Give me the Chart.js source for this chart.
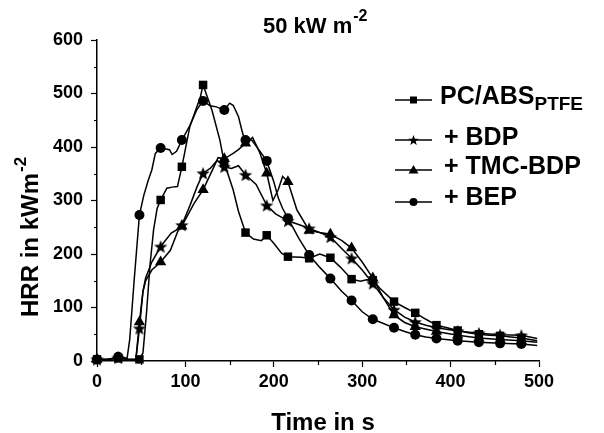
<!DOCTYPE html>
<html>
<head>
<meta charset="utf-8">
<script src="https://cdn.jsdelivr.net/npm/chart.js@4.4.1/dist/chart.umd.min.js"></script>
<style>
  html, body { margin: 0; padding: 0; background: #fff; }
  canvas { display: block; }
</style>
</head>
<body>
<canvas id="chart" width="604" height="433"></canvas>
<script>
// Values: time in s, HRR in kW m-2
const pcTime = [0, 12, 24, 36, 48, 52, 56, 60, 64, 68, 72, 79, 85, 91, 96, 105, 113, 117, 120, 130, 139, 144, 154, 160, 168, 177, 186, 192, 199, 209, 216, 231, 240, 252, 264, 275, 288, 298, 305, 312, 320, 336, 348, 360, 372, 384, 396, 408, 420, 432, 444, 456, 468, 480, 498];
const pcHrr  = [3, 3, 5, 3, 3, 15, 90, 180, 245, 285, 301, 323, 325, 326, 363, 438, 475, 494, 516, 469, 413, 370, 320, 280, 240, 228, 225, 235, 222, 201, 195, 194, 192, 200, 193, 176, 153, 149, 152, 151, 136, 111, 100, 90, 78, 67, 62, 57, 53, 50, 48, 47, 45, 43, 38];

const bdpTime = [0, 12, 24, 36, 44, 48, 52, 55, 62, 72, 84, 90, 96, 105, 113, 120, 128, 136, 144, 152, 160, 168, 180, 192, 202, 216, 228, 240, 252, 264, 277, 288, 300, 312, 324, 336, 348, 360, 372, 384, 408, 432, 456, 480, 498];
const bdpHrr  = [3, 3, 6, 3, 3, 61, 130, 155, 185, 214, 239, 245, 254, 290, 325, 351, 360, 375, 363, 360, 365, 348, 330, 291, 275, 262, 255, 248, 240, 232, 210, 192, 170, 145, 118, 96, 82, 73, 67, 62, 56, 52, 49, 48, 42];

const tmcTime = [0, 12, 24, 36, 44, 48, 52, 55, 62, 72, 83, 92, 96, 110, 120, 130, 137, 144, 154, 160, 168, 176, 184, 192, 199, 205, 210, 216, 226, 240, 252, 264, 277, 288, 300, 312, 324, 336, 348, 360, 384, 408, 432, 456, 480, 498];
const tmcHrr  = [3, 3, 6, 3, 3, 73, 130, 150, 170, 185, 207, 245, 252, 295, 320, 355, 380, 378, 388, 395, 407, 418, 390, 351, 300, 320, 345, 335, 283, 244, 240, 237, 225, 211, 185, 155, 118, 86, 72, 64, 55, 48, 43, 40, 38, 35];

const bepTime = [0, 12, 24, 34, 37, 42, 48, 53, 58, 62, 66, 72, 82, 85, 90, 96, 105, 113, 120, 128, 135, 144, 150, 154, 160, 165, 168, 175, 183, 192, 200, 205, 210, 216, 228, 240, 252, 264, 277, 288, 300, 312, 324, 336, 348, 360, 372, 384, 408, 432, 456, 480, 498];
const bepHrr  = [3, 3, 8, 5, 40, 150, 273, 310, 338, 357, 388, 398, 395, 386, 392, 413, 440, 470, 486, 477, 475, 469, 482, 478, 457, 424, 413, 413, 395, 374, 335, 305, 285, 267, 230, 198, 175, 154, 130, 113, 92, 78, 70, 62, 55, 49, 45, 42, 38, 35, 33, 32, 29];

const seriesNames = ['PC/ABS', '+ BDP', '+ TMC-BDP', '+ BEP'];
const seriesSub = ['PTFE', '', '', ''];
const markerEvery = 24; // a symbol every 24 s
const xMin = 0, xMax = 500, yMin = 0, yMax = 600;

const titleText = '50 kW m';
const xTitle = 'Time in s';
const yTitle = 'HRR in kWm';
const sup = '-2';

const ink = '#000';
const family = '"Liberation Sans", Arial, Helvetica, sans-serif';
const font = (size) => `bold ${size}px ${family}`;

function starPath(ctx, cx, cy, R, r) {
  ctx.beginPath();
  for (let i = 0; i < 10; i++) {
    const a = -Math.PI / 2 + i * Math.PI / 5;
    const rad = i % 2 === 0 ? R : r;
    ctx.lineTo(cx + rad * Math.cos(a), cy + rad * Math.sin(a));
  }
  ctx.closePath();
}

function starImage(R) {
  const c = document.createElement('canvas');
  const s = Math.ceil(R * 2 + 2);
  c.width = s; c.height = s;
  const g = c.getContext('2d');
  g.fillStyle = ink;
  starPath(g, s / 2, s / 2 + R * 0.1, R, R * 0.42);
  g.fill();
  return c;
}

const starMark = starImage(7);

function points(t, v) {
  return t.map((x, i) => ({ x: x, y: v[i] }));
}

function markerRadius(r) {
  return (c) => (c.raw && c.raw.x % markerEvery === 0) ? r : 0;
}

function series(label, t, v, style, r) {
  return {
    label: label,
    data: points(t, v),
    borderColor: ink,
    backgroundColor: ink,
    borderWidth: 1.5,
    pointStyle: style,
    pointRadius: markerRadius(r),
    pointBorderWidth: 0,
    tension: 0,
    clip: false
  };
}

function drawSymbol(ctx, kind, x, y) {
  ctx.fillStyle = ink;
  ctx.beginPath();
  if (kind === 'rect') {
    ctx.rect(x - 3.5, y - 3.5, 7, 7);
  } else if (kind === 'star') {
    starPath(ctx, x, y + 0.5, 5.5, 2.3);
  } else if (kind === 'triangle') {
    ctx.moveTo(x, y - 5);
    ctx.lineTo(x + 5, y + 3.5);
    ctx.lineTo(x - 5, y + 3.5);
    ctx.closePath();
  } else {
    ctx.arc(x, y, 4, 0, Math.PI * 2);
  }
  ctx.fill();
}

// text, legend and minor ticks
const decor = {
  id: 'decor',
  afterDraw(chart) {
    const ctx = chart.ctx;
    const xs = chart.scales.x, ys = chart.scales.y;
    ctx.save();
    ctx.strokeStyle = ink;
    ctx.lineWidth = 1.2;
    ctx.beginPath();
    for (let v = 50; v < xMax; v += 100) {
      const p = Math.round(xs.getPixelForValue(v)) + 0.5;
      ctx.moveTo(p, xs.top); ctx.lineTo(p, xs.top + 4);
    }
    for (let v = 50; v < yMax; v += 100) {
      const p = Math.round(ys.getPixelForValue(v)) + 0.5;
      ctx.moveTo(ys.right, p); ctx.lineTo(ys.right - 3, p);
    }
    ctx.stroke();

    ctx.fillStyle = ink;
    ctx.textBaseline = 'alphabetic';

    // title
    ctx.textAlign = 'left';
    ctx.font = font(22);
    ctx.fillText(titleText, 263, 33);
    let w = ctx.measureText(titleText).width;
    ctx.font = font(16);
    ctx.fillText(sup, 263 + w + 1, 21);

    // x title
    ctx.textAlign = 'center';
    ctx.font = font(24);
    ctx.fillText(xTitle, 323, 430);

    // y title
    ctx.save();
    ctx.translate(38, 317);
    ctx.rotate(-Math.PI / 2);
    ctx.textAlign = 'left';
    ctx.font = font(24);
    ctx.fillText(yTitle, 0, 0);
    w = ctx.measureText(yTitle).width;
    ctx.font = font(17);
    ctx.fillText(sup, w + 1, -12);
    ctx.restore();

    // legend
    const rows = [
      { kind: 'rect', y: 100, base: 104, tx: 440 },
      { kind: 'star', y: 140, base: 145, tx: 444 },
      { kind: 'triangle', y: 170, base: 174, tx: 444 },
      { kind: 'circle', y: 202, base: 205, tx: 444 }
    ];
    rows.forEach((r, i) => {
      ctx.lineWidth = 1.5;
      ctx.beginPath();
      ctx.moveTo(395, r.y); ctx.lineTo(432, r.y);
      ctx.stroke();
      drawSymbol(ctx, r.kind, 413.5, r.y);
      ctx.textAlign = 'left';
      ctx.font = font(25);
      ctx.fillText(seriesNames[i], r.tx, r.base);
      if (seriesSub[i]) {
        const tw = ctx.measureText(seriesNames[i]).width;
        ctx.font = font(19);
        ctx.fillText(seriesSub[i], r.tx + tw, r.base + 6);
      }
    });
    ctx.restore();
  }
};

const tickFont = { family: family, size: 18, weight: 'bold' };

new Chart(document.getElementById('chart'), {
  type: 'line',
  data: {
    datasets: [
      series(seriesNames[0], pcTime, pcHrr, 'rect', 6),
      series(seriesNames[1], bdpTime, bdpHrr, starMark, 6),
      series(seriesNames[2], tmcTime, tmcHrr, 'triangle', 6.5),
      series(seriesNames[3], bepTime, bepHrr, 'circle', 5)
    ]
  },
  options: {
    responsive: false,
    animation: false,
    events: [],
    layout: { padding: { top: 40, right: 65, bottom: 0, left: 0 } },
    plugins: { legend: { display: false }, title: { display: false }, tooltip: { enabled: false } },
    scales: {
      x: {
        type: 'linear',
        min: xMin, max: xMax,
        afterFit: (s) => { s.height = 72; },
        ticks: { stepSize: 100, color: ink, font: tickFont, padding: 4, maxRotation: 0 },
        grid: { display: true, drawOnChartArea: false, drawTicks: true, tickLength: 6, tickColor: ink, tickWidth: 1.2 },
        border: { display: true, color: ink, width: 1.5 }
      },
      y: {
        type: 'linear',
        min: yMin, max: yMax,
        afterFit: (s) => { s.width = 97; },
        ticks: { stepSize: 100, color: ink, font: tickFont, padding: 8 },
        grid: { display: true, drawOnChartArea: false, drawTicks: true, tickLength: 6, tickColor: ink, tickWidth: 1.2 },
        border: { display: true, color: ink, width: 1.5 }
      }
    }
  },
  plugins: [decor]
});
</script>
</body>
</html>
